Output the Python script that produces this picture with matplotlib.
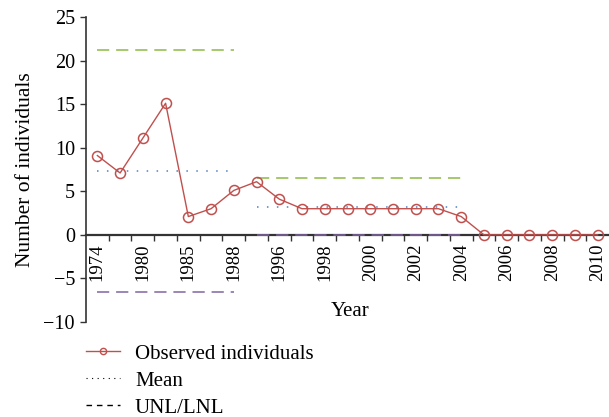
import numpy as np
import matplotlib.pyplot as plt
from matplotlib.lines import Line2D

# ---- Data ------------------------------------------------------------------
years = ["1974", "", "1980", "", "1985", "", "1988", "", "1996", "", "1998", "",
         "2000", "", "2002", "", "2004", "", "2006", "", "2008", "", "2010"]
observed = [9.1, 7.1, 11.1, 15.1, 2.1, 3.0, 5.1, 6.1, 4.1, 3.0, 3.0, 3.0,
            3.0, 3.0, 3.0, 3.0, 2.1, 0, 0, 0, 0, 0, 0]

# control-chart phases: (first index, last index, mean, UNL, LNL)
phase_start = [0, 7]
phase_end = [6, 16]
phase_mean = [7.3, 3.25]
phase_unl = [21.2, 6.5]
phase_lnl = [-6.6, 0.0]

# ---- Colours ---------------------------------------------------------------
c_obs = "#c0504d"
c_mean = "#4f81bd"
c_unl = "#8dbb47"
c_lnl = "#8064a2"
c_axis = "#333333"

plt.rcParams["font.family"] = ["Liberation Serif", "DejaVu Serif"]

fig = plt.figure(figsize=(6.09, 4.17), dpi=100)
ax = fig.add_axes([86 / 609, 1 - 322 / 417, (609 - 86) / 609, (322 - 17) / 417])

x = np.arange(len(observed))

for s, e, m, u, l in zip(phase_start, phase_end, phase_mean, phase_unl, phase_lnl):
    ax.plot([s, e], [u, u], color=c_unl, lw=1.1, ls=(0, (8, 4.5)))
    ax.plot([s, e], [l, l], color=c_lnl, lw=1.1, ls=(0, (8, 4.5)), zorder=4)
    ax.plot([s, e], [m, m], color=c_mean, lw=1.1, ls=(0, (1, 5.5)))

ax.plot(x, observed, color=c_obs, lw=1.0, marker="o", ms=7.2,
        mfc="none", mec=c_obs, mew=1.1, zorder=5)

ax.set_xlim(-0.5, len(observed) - 0.5)
ax.set_ylim(-10, 25)
ax.set_yticks(np.arange(-10, 26, 5))
ax.set_yticklabels([str(v).replace("-", "\u2212") for v in range(-10, 26, 5)])

ax.spines["top"].set_visible(False)
ax.spines["right"].set_visible(False)
ax.spines["bottom"].set_position(("data", 0))
ax.spines["bottom"].set_color(c_axis)
ax.spines["bottom"].set_linewidth(1.6)
ax.spines["left"].set_color(c_axis)
ax.spines["left"].set_linewidth(1.2)
ax.tick_params(axis="y", direction="out", length=4, width=1.0, color=c_axis,
               labelsize=14.5, pad=4)

# ticks between categories, labels on even categories
ax.set_xticks(x[:-1] + 0.5)
ax.tick_params(axis="x", which="major", direction="out", length=4, width=1.0,
               color=c_axis, labelbottom=False)
ax.set_xticks(x, minor=True)
ax.set_xticklabels(years, minor=True, rotation=90, fontsize=13.5)
ax.tick_params(axis="x", which="minor", length=0, pad=6)

ax.set_ylabel("Number of individuals", fontsize=15.5, labelpad=6)
fig.text(350 / 609, 1 - 312 / 417, "Year", fontsize=15, ha="center", va="center")

handles = [
    Line2D([], [], color=c_obs, lw=1.0, marker="o", ms=4.5, mfc="none", mec=c_obs),
    Line2D([], [], color="black", lw=0.8, ls=(0, (1, 4))),
    Line2D([], [], color="black", lw=1.0, ls=(0, (4, 3.5))),
]
labels = ["Observed individuals", "Mean", "UNL/LNL"]
fig.legend(handles, labels, loc="upper left", bbox_to_anchor=(86 / 609, 1 - 344 / 417),
           frameon=False, fontsize=15, handlelength=1.65, handletextpad=0.7,
           labelspacing=0.36, borderaxespad=0, borderpad=0)

fig.savefig("out.png", dpi=100)
